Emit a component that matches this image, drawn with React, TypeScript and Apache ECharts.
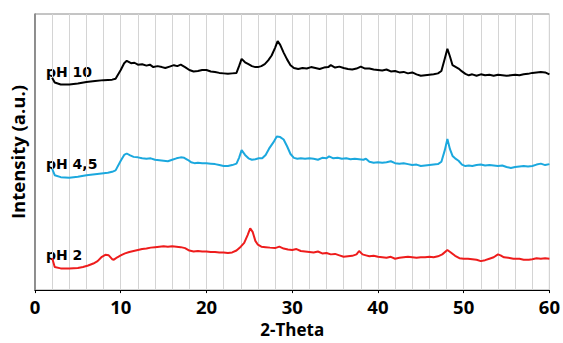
import React, { useEffect, useRef } from "react";
import * as echarts from "echarts";

// 2-Theta (deg) and intensity (a.u., arbitrary offset units)
const pH10: number[][] = [
  [2.0, 220], [2.3, 215], [3.0, 213], [4.0, 213], [5.0, 214], [6.0, 215.5], [7.0, 216.5], [8.0, 217.5],
  [9.0, 218], [9.4, 219], [10.0, 228], [10.4, 235], [10.7, 237.5], [11.2, 235], [11.6, 235.5], [12.0, 233.5],
  [12.5, 234], [13.0, 232.5], [13.4, 233.5], [13.8, 231], [14.3, 232], [14.8, 231], [15.2, 230], [15.7, 231.5],
  [16.2, 233], [16.6, 232], [17.0, 233.5], [17.5, 231], [18.0, 228], [18.5, 226.5], [19.0, 227], [19.5, 228],
  [20.0, 228], [20.5, 226.5], [21.0, 226], [21.5, 225], [22.0, 224.5], [22.5, 224], [23.0, 224.5], [23.5, 225],
  [23.8, 232], [24.1, 239.5], [24.5, 236], [24.9, 234], [25.3, 232], [25.7, 231], [26.0, 231], [26.4, 232],
  [26.8, 234], [27.2, 238], [27.6, 243], [28.0, 251], [28.3, 258], [28.6, 254], [29.0, 246], [29.4, 239],
  [29.8, 233], [30.2, 230], [30.7, 229], [31.2, 230], [31.7, 229.5], [32.2, 231], [32.7, 230], [33.2, 229],
  [33.7, 230.5], [34.2, 231], [34.5, 233], [35.0, 230.5], [35.5, 231.5], [36.0, 230], [36.5, 229], [37.0, 228.5],
  [37.5, 229.5], [38.0, 231.5], [38.5, 229.5], [39.0, 229.5], [39.5, 228.5], [40.0, 228], [40.5, 227.5], [41.0, 228.5],
  [41.5, 226.5], [42.0, 227], [42.5, 225.5], [43.0, 226], [43.5, 224.5], [44.0, 225.5], [44.5, 223.5], [45.0, 222],
  [45.5, 222.5], [46.0, 223], [46.5, 223.5], [47.0, 224.5], [47.4, 227], [47.8, 240], [48.1, 250], [48.4, 242],
  [48.7, 233], [49.0, 231.5], [49.4, 229.5], [49.8, 226.5], [50.2, 224], [50.6, 222.5], [51.0, 223.5], [51.5, 222],
  [52.0, 223.5], [52.5, 222.5], [53.0, 223], [53.5, 222], [54.0, 223], [54.5, 222.5], [55.0, 222], [55.5, 222.5],
  [56.0, 223], [56.5, 222.5], [57.0, 223.5], [57.5, 224], [58.0, 225], [58.5, 225.5], [59.0, 226], [59.5, 225.5],
  [60.0, 223.5],
];

const pH45: number[][] = [
  [2.0, 125.7], [2.3, 119], [3.0, 117], [4.0, 116.5], [5.0, 117.5], [6.0, 119], [7.0, 120], [8.0, 121],
  [8.5, 121.5], [9.0, 122.5], [9.4, 124], [10.0, 134], [10.4, 140], [10.7, 141.5], [11.1, 139.5], [11.5, 138],
  [12.0, 137.5], [12.5, 136.5], [13.0, 136], [13.5, 136.5], [14.0, 135], [14.5, 134.5], [15.0, 134], [15.5, 133.5],
  [16.0, 135], [16.5, 136.5], [17.0, 137.5], [17.4, 137], [17.8, 135], [18.2, 132.5], [18.6, 131.5], [19.0, 132],
  [19.5, 131.5], [20.0, 131.5], [20.5, 131], [21.0, 130.5], [21.5, 129.5], [22.0, 128.5], [22.5, 128.5], [23.0, 129.5],
  [23.5, 131], [23.8, 137], [24.1, 145], [24.5, 140], [24.9, 136.5], [25.3, 135], [25.7, 135.5], [26.1, 136.5],
  [26.5, 136.5], [26.9, 140], [27.3, 146.5], [27.8, 153], [28.2, 159], [28.6, 158.5], [29.0, 156], [29.4, 149],
  [29.8, 141], [30.2, 137], [30.6, 136], [31.0, 136.5], [31.5, 136], [32.0, 136.5], [32.5, 136], [33.0, 135],
  [33.5, 137], [34.0, 136.5], [34.3, 138.5], [34.8, 136.5], [35.3, 137], [35.8, 136], [36.3, 136.5], [36.8, 135.5],
  [37.3, 136], [37.8, 135.5], [38.3, 135], [38.6, 136], [39.0, 133], [39.5, 132], [40.0, 132.5], [40.5, 132],
  [41.0, 132.5], [41.5, 133.5], [42.0, 131.5], [42.5, 131], [43.0, 131.5], [43.5, 130.5], [44.0, 129.5], [44.5, 130],
  [45.0, 128.5], [45.5, 129], [46.0, 129.5], [46.5, 130], [47.0, 130.5], [47.4, 133], [47.8, 145], [48.1, 156.5],
  [48.4, 146], [48.7, 139], [49.0, 136.5], [49.4, 134], [49.8, 130], [50.2, 128.5], [50.6, 129], [51.0, 128.5],
  [51.5, 129.5], [52.0, 130], [52.5, 129], [53.0, 129.5], [53.5, 129], [54.0, 128.5], [54.5, 129], [55.0, 127.5],
  [55.5, 126.5], [56.0, 127.5], [56.5, 128], [57.0, 128.5], [57.5, 128], [58.0, 128.5], [58.5, 130], [59.0, 131],
  [59.5, 129.5], [60.0, 130.5],
];

const pH2: number[][] = [
  [2.0, 33.3], [2.3, 24], [3.0, 22.5], [4.0, 22.5], [5.0, 23], [5.6, 24], [6.2, 25.5], [6.8, 27.5],
  [7.3, 30], [7.8, 34.5], [8.2, 36.5], [8.6, 36], [9.0, 32], [9.2, 31.5], [9.6, 34], [10.0, 36],
  [10.5, 38], [11.0, 39.5], [11.5, 40.5], [12.0, 41.5], [12.5, 42.5], [13.0, 43], [13.5, 44], [14.0, 44.5],
  [14.5, 45], [15.0, 45.5], [15.5, 45], [16.0, 45.5], [16.5, 45], [17.0, 44.5], [17.5, 43.5], [18.0, 41],
  [18.5, 40], [19.0, 40.5], [19.5, 40], [20.0, 40], [20.5, 39.5], [21.0, 39.5], [21.5, 39], [22.0, 39],
  [22.5, 38.5], [23.0, 39], [23.5, 41], [24.0, 45], [24.4, 49], [24.8, 57], [25.1, 64], [25.4, 60],
  [25.7, 51], [26.0, 47], [26.4, 45], [26.9, 44.5], [27.4, 44], [28.0, 43.5], [28.5, 45], [29.0, 43],
  [29.5, 42], [30.0, 41.5], [30.5, 42.5], [31.0, 40.5], [31.5, 40], [32.0, 39.5], [32.5, 39], [33.0, 40],
  [33.5, 38], [34.0, 38.5], [34.5, 37], [35.0, 37.5], [35.5, 36], [36.0, 34.5], [36.5, 35], [37.0, 35.5],
  [37.5, 37], [37.8, 40.5], [38.2, 37], [38.6, 36], [39.0, 35], [39.5, 35.5], [40.0, 34.5], [40.5, 34],
  [41.0, 33.5], [41.5, 34.5], [42.0, 32.5], [42.5, 33.5], [43.0, 34], [43.5, 34.5], [44.0, 34], [44.5, 33.5],
  [45.0, 34], [45.5, 34], [46.0, 34.5], [46.5, 34], [47.0, 35], [47.5, 37], [48.1, 41.5], [48.5, 39],
  [49.0, 35.5], [49.5, 33], [50.0, 32.5], [50.5, 32.5], [51.0, 32], [51.5, 31.5], [52.0, 30], [52.5, 31],
  [53.0, 32.5], [53.5, 34], [54.0, 37], [54.3, 36], [54.7, 34], [55.2, 33.5], [55.8, 32.5], [56.5, 32.5],
  [57.0, 31.5], [57.6, 31.5], [58.0, 32], [58.5, 33], [59.0, 32.5], [59.5, 33], [60.0, 32.5],
];

const seriesNames = ["pH 10", "pH 4,5", "pH 2"];
const seriesColors = ["#000000", "#1BA8DE", "#EE1C1C"];
const xTicks = [0, 10, 20, 30, 40, 50, 60];

export default function App() {
  const ref = useRef<HTMLDivElement>(null);
  useEffect(() => {
    if (!ref.current) return;
    const chart = echarts.init(ref.current, null, { renderer: "svg" });
    const datasets = [pH10, pH45, pH2];
    const labelFont = "DejaVu Sans";
    const axisFont = "Open Sans";
    chart.setOption({
      animation: false,
      grid: {
        left: 35, top: 14, right: 12, bottom: 43,
        show: true, borderColor: "#8a8a8a", borderWidth: 1,
      },
      xAxis: {
        type: "value",
        min: xTicks[0],
        max: xTicks[xTicks.length - 1],
        interval: 10,
        name: "2-Theta",
        nameLocation: "middle",
        nameGap: 29,
        nameTextStyle: { fontFamily: axisFont, fontWeight: "bold", fontSize: 17, color: "#000" },
        axisLine: { lineStyle: { color: "#000", width: 1.2 } },
        axisTick: { show: true, length: 3, lineStyle: { color: "#000" } },
        minorTick: { show: false, splitNumber: 5 },
        axisLabel: { fontFamily: axisFont, fontWeight: "bold", fontSize: 18.5, color: "#000", margin: 7 },
        splitLine: { show: true, lineStyle: { color: "#d4d4d4", width: 1 } },
        minorSplitLine: { show: true, lineStyle: { color: "#d4d4d4", width: 1 } },
      },
      yAxis: {
        type: "value",
        min: 0,
        max: 286,
        name: "Intensity (a.u.)",
        nameLocation: "middle",
        nameGap: 8,
        nameTextStyle: { fontFamily: axisFont, fontWeight: "bold", fontSize: 18.5, color: "#000" },
        axisLine: { show: true, lineStyle: { color: "#7a7a7a", width: 1.5 } },
        axisTick: { show: false },
        axisLabel: { show: false },
        splitLine: { show: false },
      },
      series: datasets.map((d, i) => ({
        name: seriesNames[i],
        type: "line",
        data: d,
        showSymbol: false,
        symbol: "none",
        lineStyle: { color: seriesColors[i], width: 2 },
        itemStyle: { color: seriesColors[i] },
        z: 3,
      })),
      graphic: [
        { type: "text", left: 46, top: 65, style: { text: seriesNames[0], font: `bold 14px '${labelFont}'`, fill: "#000" } },
        { type: "text", left: 46, top: 157, style: { text: seriesNames[1], font: `bold 14px '${labelFont}'`, fill: "#000" } },
        { type: "text", left: 46, top: 248, style: { text: seriesNames[2], font: `bold 14px '${labelFont}'`, fill: "#000" } },
      ],
    });
    return () => chart.dispose();
  }, []);
  return <div ref={ref} style={{ width: 563, height: 343, position: "absolute", left: 0, top: 0 }} />;
}
